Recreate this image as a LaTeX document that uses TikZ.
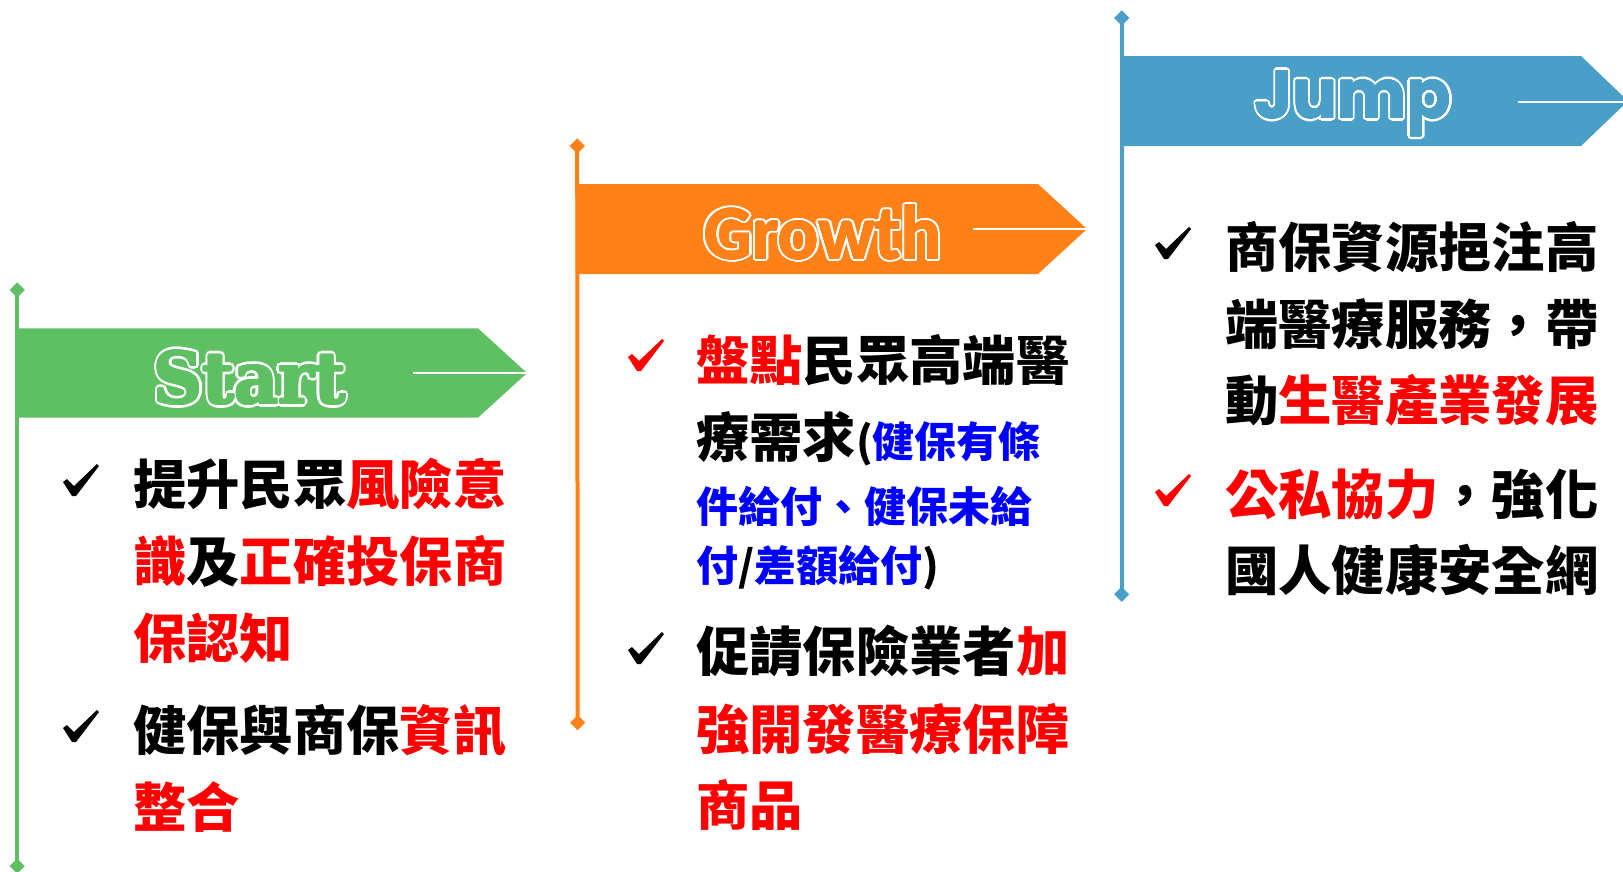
\documentclass[tikz,border=0pt]{standalone}
\usepackage{fontspec}
\usepackage{graphicx}
\usetikzlibrary{shapes.geometric}
\newfontfamily\cjk{Noto Sans CJK TC}
\newcommand\cjkw{\bfseries}
\newfontfamily\fStart{DejaVu Serif}
\newfontfamily\fGrowth{Carlito}
\newfontfamily\fJump{Poppins}
\definecolor{cgreen}{RGB}{94,191,99}
\definecolor{corange}{RGB}{255,129,23}
\definecolor{cblue}{RGB}{73,159,199}
\definecolor{cred}{RGB}{255,0,0}
\definecolor{cblu}{RGB}{0,0,255}
\newcommand\smallcjk{\fontsize{31.5}{31.5}\selectfont}
% outlined title: #1 anchor coordinate, #2 fill colour, #3 content, #4 name, #5 fattening radius
\newcommand\ttl[5]{%
  \foreach \a in {0,22.5,...,337.5}{\node[ttlbase,text=white] at ([shift={(\a:#5+2.4)}]#1) {#3};}
  \foreach \a in {0,45,...,315}{\node[ttlbase,text=#2] at ([shift={(\a:#5)}]#1) {#3};}
  \node[ttlbase,text=#2] (#4) at (#1) {#3};}
\tikzset{
  txt/.style={anchor=base west, inner sep=0pt, outer sep=0pt, font=\cjk\cjkw\fontsize{40}{40}\selectfont},
  smalltxt/.style={txt, font=\cjk\cjkw\smallcjk},
  ttlbase/.style={anchor=base, inner sep=0pt, outer sep=0pt},
  diam/.style={shape=diamond, inner sep=0pt, minimum width=11.5pt, minimum height=11.5pt},
  stem/.style={line width=3pt},
  whiteline/.style={white, line width=1.5pt},
  chk/.pic={\fill (0,18) -- (4,15) -- (11,22) -- (34,0) -- (36,2) -- (13,32) -- (9,32) -- cycle;}
}
\begin{document}
\begin{tikzpicture}[x=0.75pt,y=-0.75pt]
\clip (0,0) rectangle (1623,871);
\fill[white] (0,0) rectangle (1623,871);

% ---- Start (green)
\fill[cgreen] (15.5,328.3) -- (478,328.3) -- (527,373) -- (478,417.7) -- (15.5,417.7) -- cycle;
\node[diam, fill=cgreen] (gD1) at (17.2,290) {};
\node[diam, fill=cgreen] (gD2) at (17.2,866) {};
\draw[stem, cgreen] (gD1.center) -- (gD2.center);
\coordinate (gW1) at (413,372.7); \coordinate (gW2) at (527,372.7);
\draw[whiteline] (gW1) -- (gW2);
\coordinate (startT) at (249.7,403.5);
\ttl{startT}{cgreen}{\resizebox{144pt}{39.5pt}{\fStart\bfseries Start}}{startTitle}{1.2}

% ---- Growth (orange)
\fill[corange] (575.5,184) -- (1038,184) -- (1087,229) -- (1038,274) -- (575.5,274) -- cycle;
\node[diam, fill=corange] (oD1) at (577.2,146) {};
\node[diam, fill=corange] (oD2) at (577.7,722.7) {};
\draw[stem, corange] (oD1.center) -- (oD2.center);
\coordinate (oW1) at (973,228.7); \coordinate (oW2) at (1087,228.7);
\draw[whiteline] (oW1) -- (oW2);
\coordinate (growthT) at (823,259);
\ttl{growthT}{corange}{\resizebox{178pt}{40.5pt}{\fGrowth\bfseries Growth}}{growthTitle}{0.4}

% ---- Jump (blue)
\fill[cblue] (1120,56) -- (1581,56) -- (1628,101) -- (1581,146) -- (1120,146) -- cycle;
\node[diam, fill=cblue] (bD1) at (1121.7,18) {};
\node[diam, fill=cblue] (bD2) at (1121.7,594.3) {};
\draw[stem, cblue] (bD1.center) -- (bD2.center);
\coordinate (bW1) at (1518,101.5); \coordinate (bW2) at (1628,101.5);
\draw[whiteline] (bW1) -- (bW2);
\coordinate (jumpT) at (1353,118.5);
\ttl{jumpT}{cblue}{\resizebox{147pt}{36pt}{\fJump\bfseries Jump}}{jumpTitle}{0.3}

% ---- check marks
\pic[black] at (63,464) {chk};
\pic[black] at (63,710) {chk};
\pic[cred] at (628,339) {chk};
\pic[black] at (628,632) {chk};
\pic[black] at (1155,227) {chk};
\pic[cred] at (1155,474) {chk};

% ---- Start texts
\node[txt] (s1a) at (133,504.5) {提升民眾\textcolor{cred}{風險意}};
\node[txt] (s1b) at (133,581) {\textcolor{cred}{識}及\textcolor{cred}{正確投保商}};
\node[txt] (s1c) at (133,658) {\textcolor{cred}{保認知}};
\node[txt] (s2a) at (133,750) {健保與商保\textcolor{cred}{資訊}};
\node[txt] (s2b) at (133,827) {\textcolor{cred}{整合}};

% ---- Growth texts
\node[txt] (g1a) at (696,380) {\textcolor{cred}{盤點}民眾高端醫};
\node[txt] (g1b) at (696,457) {療需求{\smallcjk(\textcolor{cblu}{健保有條}}};
\node[smalltxt] (g1c) at (696,522) {\textcolor{cblu}{件給付、健保未給}};
\node[smalltxt] (g1d) at (696,581) {\textcolor{cblu}{付}/\textcolor{cblu}{差額給付})};
\node[txt] (g2a) at (696,671.5) {促請保險業者\textcolor{cred}{加}};
\node[txt] (g2b) at (696,749.5) {\textcolor{cred}{強開發醫療保障}};
\node[txt] (g2c) at (696,825.5) {\textcolor{cred}{商品}};

% ---- Jump texts
\node[txt] (j1a) at (1225,267.5) {商保資源挹注高};
\node[txt] (j1b) at (1225,344.5) {端醫療服務，帶};
\node[txt] (j1c) at (1225,420.5) {動\textcolor{cred}{生醫產業發展}};
\node[txt] (j2a) at (1225,514.5) {\textcolor{cred}{公私協力}，強化};
\node[txt] (j2b) at (1225,590.5) {國人健康安全網};
\end{tikzpicture}
\end{document}
